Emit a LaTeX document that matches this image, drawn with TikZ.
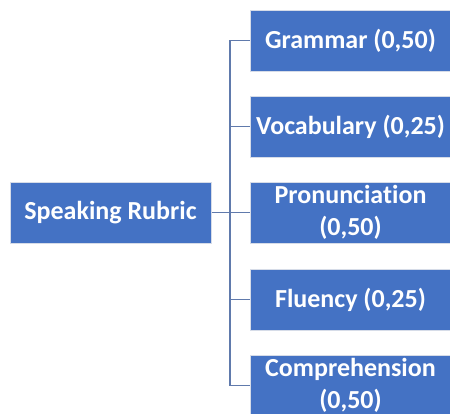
\documentclass[tikz,border=0pt]{standalone}
\usepackage{fontspec}
\setmainfont{Carlito}[Ligatures=CommonOff]
\usepackage{tikz}
\definecolor{boxblue}{RGB}{68,114,196}
\definecolor{boxedge}{RGB}{214,220,232}
\definecolor{linkblue}{RGB}{96,122,172}
\tikzset{
every node/.style={rectangle, draw=boxedge, line width=1pt, fill=boxblue, text=white,
  font=\bfseries\fontsize{26}{32}\selectfont, align=center, inner sep=0pt,
  minimum width=201pt, minimum height=61pt},
link/.style={draw=linkblue, line width=1.6pt}
}

\begin{document}
\begin{tikzpicture}[x=1pt, y=-1pt]
\useasboundingbox (0,0) rectangle (450,413);
\node (0) at (110.5,212.5) {Speaking Rubric};
\node (1) at (350.5,40.5) {Grammar (0,50)};
\node (2) at (350.5,126.5) {Vocabulary (0,25)};
\node (3) at (350.5,212.5) {Pronunciation\\(0,50)};
\node (4) at (350.5,299.5) {Fluency (0,25)};
\node (5) at (350.5,385.5) {Comprehension\\(0,50)};
\coordinate (trunk) at (230,212.5);

\draw[link] (0.east) -- (3.west);
\draw[link] (1.west) -| (trunk) |- (5.west);
\draw[link] (2.west) -| (trunk);
\draw[link] (4.west) -| (trunk);
\end{tikzpicture}
\end{document}
